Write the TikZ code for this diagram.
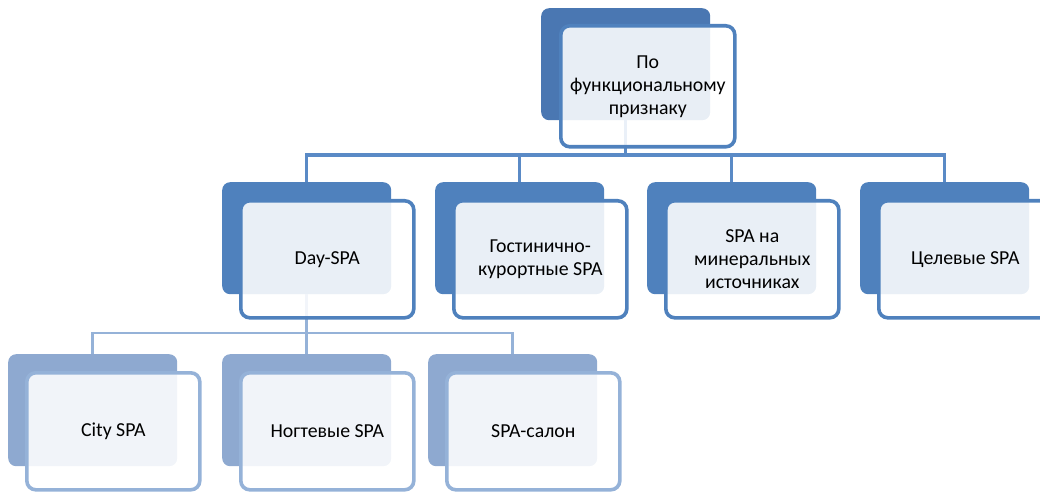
\documentclass[tikz,border=0pt]{standalone}
\usepackage{fontspec}
\setmainfont{Carlito}
\usepackage{tikz}
\definecolor{topblue}{HTML}{4A77B2}
\definecolor{midblue}{HTML}{4F81BD}
\definecolor{lowblue}{HTML}{8EA9D0}
\definecolor{linkblue}{HTML}{5A8AC6}
\definecolor{lowlink}{HTML}{95B2D8}
\tikzset{
	back/.style={fill=#1, rounded corners=8bp, minimum width=169bp, minimum height=112bp, anchor=north west, inner sep=0pt},
	front/.style={draw=#1, line width=3.6bp, rounded corners=9bp, fill=white, fill opacity=0.88, text opacity=1,
		minimum width=173bp, minimum height=117bp, anchor=north west, inner sep=0pt, align=center,
		font=\fontsize{19.8bp}{23bp}\selectfont, text=black},
	link/.style={draw=linkblue, line width=3.4bp},
	lowlink/.style={draw=lowlink, line width=2.8bp},
}

\begin{document}
\begin{tikzpicture}[x=1bp, y=-1bp]
			%%%%% START %%%%%
			\useasboundingbox (0, 0) rectangle (1040, 492);
			
			\node[back=topblue] (top-b) at (541, 8) {};
			
			\node[back=midblue] (day-b) at (222, 182) {};
			\node[back=midblue] (hotel-b) at (435, 182) {};
			\node[back=midblue] (mineral-b) at (647, 182) {};
			\node[back=midblue] (target-b) at (860, 182) {};
			
			\node[back=lowblue] (city-b) at (8, 354) {};
			\node[back=lowblue] (nail-b) at (222, 354) {};
			\node[back=lowblue] (salon-b) at (428, 354) {};
			
			\coordinate (bus1) at (625, 155);
			\coordinate (bus2) at (306, 333);
			\foreach \n in {day, hotel, mineral, target}
				\draw[link] (top-b.south) |- (bus1) -| (\n-b.north);
			\foreach \n in {city, nail, salon}
				\draw[lowlink] (day-b.south) |- (bus2) -| (\n-b.north);
			
			\node[front=midblue, minimum width=174bp, minimum height=121bp] (top) at (559, 24) {По\\функциональному\\признаку};
			
			\node[front=midblue] (day) at (239, 199) {Day-SPA};
			\node[front=midblue] (hotel) at (452, 199) {Гостинично-\\курортные SPA};
			\node[front=midblue] (mineral) at (664, 199) {SPA на\\минеральных\\источниках};
			\node[front=midblue] (target) at (877, 199) {Целевые SPA};
			
			\node[front=lowlink] (city) at (25, 371) {City SPA};
			\node[front=lowlink] (nail) at (239, 371) {Ногтевые SPA};
			\node[front=lowlink] (salon) at (445, 371) {SPA-салон};
			
			%%%%% END %%%%%
\end{tikzpicture}
\end{document}
